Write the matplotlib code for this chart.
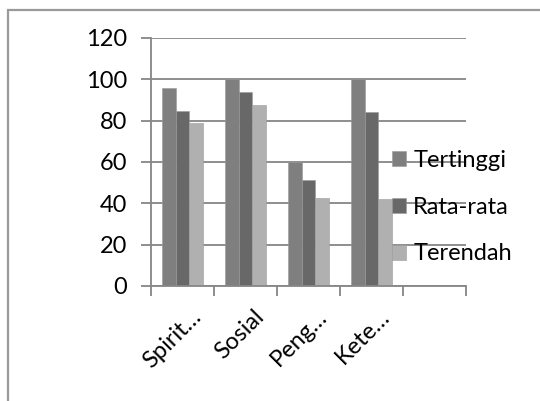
import numpy as np
import matplotlib.pyplot as plt
from matplotlib.patches import Rectangle
from matplotlib.ticker import FixedLocator
from matplotlib.transforms import ScaledTranslation

plt.rcParams['font.family'] = ['Lato', 'DejaVu Sans']

categories = ['Spirit\u2026', 'Sosial', 'Peng\u2026', 'Kete\u2026', '']
tertinggi = [96, 100, 60, 100]
rata_rata = [84.5, 94, 51.5, 84]
terendah = [79, 87.5, 42.5, 42]
series_names = ['Tertinggi', 'Rata-rata', 'Terendah']
colors = ['#7f7f7f', '#686868', '#b0b0b0']
y_ticks = [0, 20, 40, 60, 80, 100, 120]

W, H = 540, 401
fig = plt.figure(figsize=(W / 100, H / 100), dpi=100)

# chart border (left and top edges visible)
fig.patches.append(Rectangle((8 / W, -0.1), 1.2, 1 - 10 / H + 0.1,
                             transform=fig.transFigure, fill=False,
                             edgecolor='#9a9a9a', linewidth=1.6))

ax = fig.add_axes([151 / W, 1 - 286 / H, (466 - 151) / W, (286 - 38) / H])

grey = '#868686'
fs = 17
x = np.arange(len(tertinggi))
bw = 0.22
for i, (vals, name) in enumerate(zip([tertinggi, rata_rata, terendah], series_names)):
    ax.bar(x + (i - 1) * bw, vals, width=bw, color=colors[i], label=name,
           edgecolor='#9a9a9a', linewidth=0.4, zorder=2)

ax.set_xlim(-0.5, len(categories) - 0.5)
ax.set_ylim(0, 120)
ax.set_yticks(y_ticks)
ax.yaxis.grid(True, color=grey, linewidth=1.3, zorder=0)
ax.set_axisbelow(True)

for side in ['top', 'right', 'bottom']:
    ax.spines[side].set_visible(False)
ax.spines['left'].set_color(grey)
ax.spines['left'].set_linewidth(1.3)
ax.axhline(0, color=grey, linewidth=1.3, zorder=3, clip_on=False)

ax.set_xticks(np.arange(len(categories)))
ax.set_xticklabels(categories, rotation=45, ha='right', va='center',
                   rotation_mode='anchor', fontsize=fs)
ax.tick_params(axis='x', which='major', length=0, pad=20)
ax.xaxis.set_minor_locator(FixedLocator(np.arange(len(categories) + 1) - 0.5))
ax.tick_params(axis='x', which='minor', length=7, width=1.3, color=grey)
ax.tick_params(axis='y', length=7, width=1.3, color=grey, labelsize=fs, pad=10)
for lbl in ax.get_xticklabels():
    lbl.set_transform(lbl.get_transform() + ScaledTranslation(0.15, 0, fig.dpi_scale_trans))

fig.legend(loc='center left', bbox_to_anchor=(392 / W, 1 - 207 / H),
           frameon=False, fontsize=fs, handlelength=0.6, handleheight=0.6,
           handletextpad=0.3, labelspacing=1.1, borderpad=0, borderaxespad=0)

fig.savefig('out.png', dpi=100)
